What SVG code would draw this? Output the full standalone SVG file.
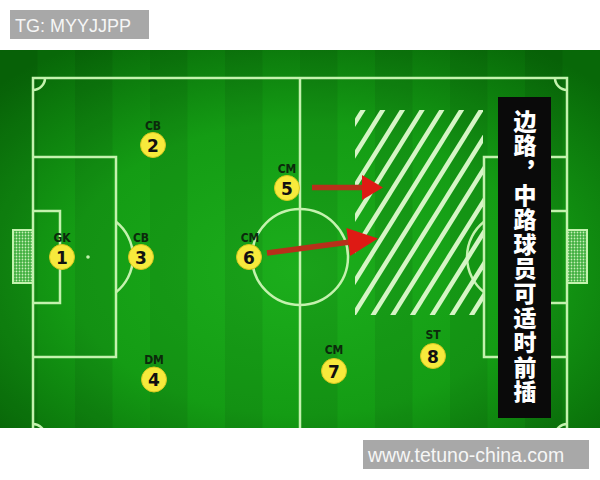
<svg xmlns="http://www.w3.org/2000/svg" width="600" height="480" viewBox="0 0 600 480">
<defs>
<radialGradient id="vig" cx="0.5" cy="0.58" r="0.7">
 <stop offset="0" stop-color="#1cae1c"/>
 <stop offset="0.55" stop-color="#149c14"/>
 <stop offset="1" stop-color="#086808"/>
</radialGradient>
<pattern id="bands" width="75" height="10" patternUnits="userSpaceOnUse">
 <rect x="0" y="0" width="37.5" height="10" fill="#000" fill-opacity="0.07"/>
</pattern>
<pattern id="net" width="3" height="3" patternUnits="userSpaceOnUse">
 <rect width="3" height="3" fill="#3fae3f"/>
 <circle cx="1.5" cy="1.5" r="0.9" fill="#c8f0b8"/>
</pattern>
<clipPath id="fieldClip"><rect x="0" y="50" width="600" height="378"/></clipPath>
<clipPath id="hatchClip"><rect x="355" y="110" width="128" height="205"/></clipPath>
</defs>
<style>
.line{fill:none;stroke:#c4f2ae;stroke-width:2.5}
.hatch{stroke:#d6f5c6;stroke-width:4.5}
.player{fill:#f7ea3c;stroke:#d8c820;stroke-width:1}
.num{font-family:"DejaVu Sans",sans-serif;font-weight:bold;font-size:17px;fill:#111;text-anchor:middle}
.pos{font-family:"DejaVu Sans Condensed","DejaVu Sans",sans-serif;font-weight:bold;font-size:12px;fill:#0c2a0c;text-anchor:middle}
.shaft{stroke:#b8301a;stroke-width:5.5;fill:none}
.head{fill:#de1a14}
.cn{font-family:"Noto Sans CJK SC",sans-serif;font-weight:900;font-size:23px;fill:#fff;writing-mode:vertical-rl;letter-spacing:1.6px}
.lbl{font-family:"Liberation Sans",Arial,sans-serif;fill:#f6f6f6}
</style>
<rect width="600" height="480" fill="#fff"/>
<g id="tg-label">
 <rect x="10" y="10" width="139" height="29" fill="#a8a8a8"/>
 <text class="lbl" x="15" y="32" font-size="18">TG: MYYJJPP</text>
</g>
<g id="pitch" clip-path="url(#fieldClip)">
 <rect x="0" y="50" width="600" height="378" fill="url(#vig)"/>
 <rect x="0" y="50" width="600" height="378" fill="url(#bands)"/>
 <rect class="line" x="33" y="78" width="534" height="358"/>
 <line class="line" x1="300" y1="78" x2="300" y2="436"/>
 <circle class="line" cx="300" cy="257" r="48"/>
 <path class="line" d="M33 157 H116 V357 H33"/>
 <path class="line" d="M33 211 H60 V303 H33"/>
 <circle cx="88" cy="257" r="1.8" fill="#c4f2ae"/>
 <path class="line" d="M116 221.8 A45 45 0 0 1 116 292.2"/>
 <path class="line" d="M567 157 H484 V357 H567"/>
 <path class="line" d="M567 211 H540 V303 H567"/>
 <path class="line" d="M484 221.8 A45 45 0 0 0 484 292.2"/>
 <path class="line" d="M33 90 A12 12 0 0 0 45 78"/>
 <path class="line" d="M555 78 A12 12 0 0 0 567 90"/>
 <path class="line" d="M33 424 A12 12 0 0 1 45 436"/>
 <path class="line" d="M555 436 A12 12 0 0 1 567 424"/>
 <rect x="13" y="230" width="20" height="53" fill="url(#net)" stroke="#c4f2ae" stroke-width="2"/>
 <rect x="567" y="230" width="20" height="53" fill="url(#net)" stroke="#c4f2ae" stroke-width="2"/>
</g>
<g id="hatch-zone" clip-path="url(#hatchClip)">
 <line class="hatch" x1="369.25" y1="100" x2="229" y2="325"/>
 <line class="hatch" x1="388.95" y1="100" x2="248.7" y2="325"/>
 <line class="hatch" x1="408.65" y1="100" x2="268.4" y2="325"/>
 <line class="hatch" x1="428.35" y1="100" x2="288.1" y2="325"/>
 <line class="hatch" x1="448.05" y1="100" x2="307.8" y2="325"/>
 <line class="hatch" x1="467.75" y1="100" x2="327.5" y2="325"/>
 <line class="hatch" x1="487.45" y1="100" x2="347.2" y2="325"/>
 <line class="hatch" x1="507.15" y1="100" x2="366.9" y2="325"/>
 <line class="hatch" x1="526.85" y1="100" x2="386.6" y2="325"/>
 <line class="hatch" x1="546.55" y1="100" x2="406.3" y2="325"/>
 <line class="hatch" x1="566.25" y1="100" x2="426" y2="325"/>
 <line class="hatch" x1="585.95" y1="100" x2="445.7" y2="325"/>
 <line class="hatch" x1="605.65" y1="100" x2="465.4" y2="325"/>
</g>
<g id="connectors">
 <line class="shaft" x1="312" y1="187.5" x2="364" y2="187.5"/>
 <polygon class="head" points="362,175 383,187.5 362,200"/>
 <line class="shaft" x1="267" y1="253" x2="350" y2="242"/>
 <polygon class="head" points="346.4,228.1 378,238.5 350.2,255.9"/>
</g>
<g id="player-1"><text class="pos" x="62" y="241.5">GK</text><circle class="player" cx="62" cy="257" r="12.5"/><text class="num" x="62" y="263.5">1</text></g>
<g id="player-2"><text class="pos" x="153" y="129.5">CB</text><circle class="player" cx="153" cy="145" r="12.5"/><text class="num" x="153" y="151.5">2</text></g>
<g id="player-3"><text class="pos" x="141" y="241.5">CB</text><circle class="player" cx="141" cy="257" r="12.5"/><text class="num" x="141" y="263.5">3</text></g>
<g id="player-4"><text class="pos" x="154" y="364">DM</text><circle class="player" cx="154" cy="379.5" r="12.5"/><text class="num" x="154" y="386">4</text></g>
<g id="player-5"><text class="pos" x="287" y="172.5">CM</text><circle class="player" cx="287" cy="188" r="12.5"/><text class="num" x="287" y="194.5">5</text></g>
<g id="player-6"><text class="pos" x="250" y="241.5">CM</text><circle class="player" cx="249" cy="257" r="12.5"/><text class="num" x="249" y="263.5">6</text></g>
<g id="player-7"><text class="pos" x="334" y="354">CM</text><circle class="player" cx="334" cy="371" r="12.5"/><text class="num" x="334" y="377.5">7</text></g>
<g id="player-8"><text class="pos" x="433" y="339">ST</text><circle class="player" cx="433" cy="356" r="12.5"/><text class="num" x="433" y="362.5">8</text></g>
<g id="caption-box">
 <rect x="498" y="97" width="53" height="321" fill="#0a0a0a"/>
 <text class="cn" x="525" y="109.5">边路，中路球员可适时前插</text>
</g>
<g id="watermark">
 <rect x="363" y="440" width="226" height="29" fill="#a8a8a8"/>
 <text class="lbl" x="368" y="462" font-size="19.5">www.tetuno-china.com</text>
</g>
</svg>
